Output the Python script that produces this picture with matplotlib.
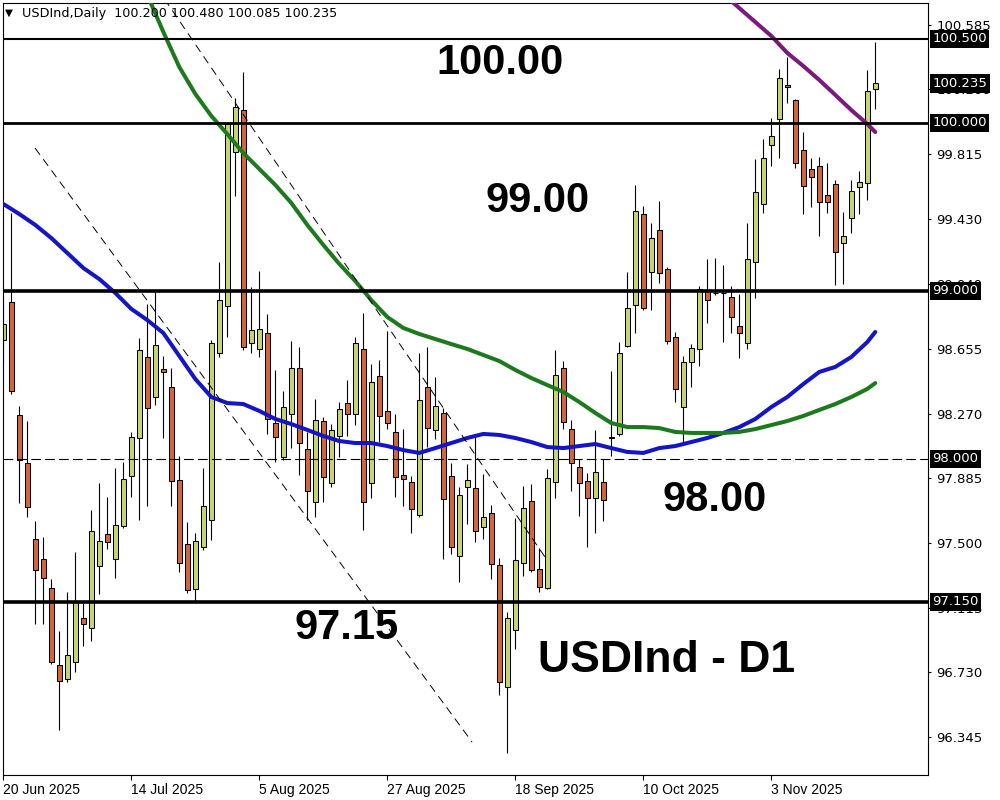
import matplotlib
matplotlib.use("Agg")
import matplotlib.pyplot as plt
import matplotlib.transforms as mtransforms

plt.rcParams['lines.scale_dashes'] = False

# ---- daily USDInd candles (one entry per trading day) ----
opens = [
    98.708, 98.934, 98.262, 97.976, 97.524, 97.405, 97.232, 96.774, 96.690, 96.792,
    97.053, 96.994, 97.363, 97.553, 97.405, 97.601, 97.899, 98.125, 98.607, 98.369,
    98.536, 98.428, 97.875, 97.494, 97.226, 97.476, 97.637, 98.631, 98.911, 99.827,
    100.077, 98.690, 98.655, 98.750, 98.214, 98.012, 98.268, 98.542, 98.059, 97.744,
    98.226, 97.857, 98.137, 98.333, 98.268, 98.655, 97.857, 98.494, 98.286, 98.161,
    97.905, 97.863, 97.667, 98.428, 98.173, 98.274, 97.899, 97.423, 97.833, 97.827,
    97.595, 97.678, 97.369, 96.643, 96.982, 97.381, 97.750, 97.345, 97.232, 97.863,
    98.542, 98.178, 97.952, 97.869, 97.768, 97.863, 98.125, 98.149, 98.673, 98.917,
    99.458, 99.113, 99.363, 99.131, 98.726, 98.309, 98.577, 98.655, 99.006, 98.988,
    98.988, 98.964, 98.792, 98.690, 99.173, 99.518, 99.869, 100.024, 100.226, 100.137,
    99.839, 99.726, 99.744, 99.571, 99.637, 99.286, 99.434, 99.619, 99.643, 100.200,
]
highs = [
    98.940, 99.464, 98.315, 98.226, 97.631, 97.536, 97.286, 96.976, 97.208, 97.446,
    97.143, 97.696, 97.857, 97.774, 97.946, 97.982, 98.161, 98.720, 98.923, 98.994,
    98.613, 98.542, 98.018, 97.625, 97.559, 97.946, 98.708, 99.173, 100.000, 100.149,
    100.303, 99.024, 99.119, 98.863, 98.530, 98.405, 98.702, 98.667, 98.161, 98.357,
    98.250, 98.208, 98.339, 98.470, 98.726, 98.869, 98.565, 98.589, 98.762, 98.268,
    98.178, 97.899, 98.631, 98.667, 98.488, 98.303, 97.976, 97.833, 97.970, 98.131,
    97.911, 97.726, 97.411, 97.089, 97.649, 97.839, 97.851, 97.470, 97.940, 98.649,
    98.583, 98.232, 98.000, 97.917, 98.173, 98.000, 98.524, 98.696, 99.113, 99.631,
    99.506, 99.405, 99.536, 99.143, 98.756, 98.613, 98.684, 99.030, 99.190, 99.196,
    99.155, 99.030, 98.982, 99.405, 99.786, 99.905, 100.030, 100.321, 100.393, 100.143,
    99.946, 99.792, 99.798, 99.762, 99.661, 99.470, 99.661, 99.714, 100.315, 100.480,
]
lows = [
    98.571, 98.387, 97.738, 97.655, 97.018, 97.018, 96.780, 96.387, 96.673, 96.732,
    96.887, 96.917, 97.196, 97.464, 97.292, 97.589, 97.774, 97.637, 97.720, 98.321,
    98.125, 97.720, 97.327, 97.202, 97.149, 97.458, 97.518, 98.607, 98.726, 99.565,
    98.649, 98.631, 98.607, 98.149, 97.982, 97.994, 98.065, 97.905, 97.637, 97.655,
    97.744, 97.833, 98.012, 98.137, 98.202, 97.577, 97.768, 98.101, 98.178, 97.774,
    97.720, 97.559, 97.655, 98.071, 98.119, 97.405, 97.434, 97.268, 97.613, 97.506,
    97.524, 97.286, 96.595, 96.250, 96.869, 97.303, 97.327, 97.208, 97.226, 97.768,
    98.178, 97.809, 97.661, 97.476, 97.559, 97.631, 98.018, 98.137, 98.667, 98.750,
    98.887, 98.887, 99.048, 98.684, 98.339, 98.083, 98.428, 98.553, 98.809, 98.976,
    98.696, 98.750, 98.601, 98.655, 98.958, 99.464, 99.744, 99.792, 100.119, 99.732,
    99.458, 99.500, 99.327, 99.464, 99.036, 99.042, 99.345, 99.458, 99.542, 100.085,
]
closes = [
    98.803, 98.405, 97.994, 97.714, 97.339, 97.292, 96.792, 96.678, 96.833, 97.149,
    97.018, 97.571, 97.512, 97.506, 97.607, 97.881, 98.131, 98.649, 98.303, 98.678,
    98.518, 97.869, 97.381, 97.220, 97.512, 97.720, 98.690, 98.946, 99.994, 100.095,
    98.667, 98.768, 98.774, 98.238, 98.131, 98.309, 98.542, 98.095, 97.809, 98.232,
    97.893, 98.173, 98.298, 98.268, 98.690, 97.744, 98.458, 98.256, 98.214, 97.893,
    97.881, 97.702, 98.351, 98.184, 98.315, 97.762, 97.476, 97.786, 97.875, 97.571,
    97.655, 97.375, 96.673, 97.053, 97.399, 97.708, 97.339, 97.238, 97.887, 98.500,
    98.220, 97.976, 97.857, 97.768, 97.923, 97.756, 98.131, 98.631, 98.899, 99.476,
    98.899, 99.315, 99.107, 98.702, 98.417, 98.577, 98.661, 99.012, 98.946, 98.988,
    98.988, 98.845, 98.750, 99.190, 99.589, 99.792, 99.923, 100.268, 100.214, 99.762,
    99.625, 99.678, 99.530, 99.530, 99.232, 99.327, 99.595, 99.649, 100.190, 100.235,
]

# ---- moving averages (bar index, price) ----
ma_blue_idx = list(range(0, 110, 2)) + [109]
ma_blue = [
    99.518, 99.458, 99.393, 99.315, 99.226, 99.137, 99.071, 98.988, 98.893, 98.827,
    98.750, 98.613, 98.476, 98.369, 98.333, 98.327, 98.286, 98.238, 98.208, 98.173,
    98.137, 98.107, 98.095, 98.095, 98.077, 98.053, 98.036, 98.065, 98.095, 98.125,
    98.149, 98.143, 98.125, 98.101, 98.071, 98.065, 98.077, 98.089, 98.065, 98.042,
    98.036, 98.065, 98.077, 98.101, 98.125, 98.155, 98.190, 98.238, 98.309, 98.369,
    98.446, 98.518, 98.548, 98.607, 98.696, 98.756,
]
ma_green_idx = list(range(18, 110, 2)) + [109]
ma_green = [
    100.762, 100.542, 100.333, 100.173, 100.042, 99.934, 99.821, 99.726, 99.631, 99.524,
    99.393, 99.274, 99.161, 99.059, 98.946, 98.845, 98.780, 98.744, 98.714, 98.684,
    98.655, 98.619, 98.583, 98.530, 98.482, 98.440, 98.399, 98.339, 98.274, 98.214,
    98.190, 98.190, 98.184, 98.161, 98.155, 98.155, 98.155, 98.161, 98.178, 98.202,
    98.226, 98.256, 98.292, 98.327, 98.369, 98.417, 98.452,
]
ma_purple_idx = list(range(90, 110, 2)) + [109]
ma_purple = [100.768, 100.684, 100.601, 100.518, 100.417, 100.339, 100.256,
             100.167, 100.077, 99.994, 99.946]

# ---- drawn objects ----
solid_levels = [100.5, 100.0, 99.0, 97.15]
solid_widths = [1.5, 2.0, 2.6, 2.6]
dashed_level = 98.0
trend_a = ([3.96, 58.6], [99.851, 96.315])
trend_b = ([20.0, 67.7], [100.748, 97.417])

notes = ["100.00", "99.00", "98.00", "97.15"]
note_x = [62.1, 66.8, 88.96, 42.96]
note_y = [100.357, 99.535, 97.756, 96.994]
title_note = "USDInd - D1"

price_ticks = [100.585, 100.200, 99.815, 99.430, 99.040, 98.655,
               98.270, 97.885, 97.500, 97.115, 96.730, 96.345]
price_tick_labels = ["100.585", "100.200", "99.815", "99.430", "99.040", "98.655",
                     "98.270", "97.885", "97.500", "97.115", "96.730", "96.345"]
date_idx = [0, 16, 32, 48, 64, 80, 96]
date_labels = ["20 Jun 2025", "14 Jul 2025", "5 Aug 2025", "27 Aug 2025",
               "18 Sep 2025", "10 Oct 2025", "3 Nov 2025"]

UP = '#c6d66e'
DOWN = '#d4663c'

fig = plt.figure(figsize=(10, 8), dpi=100)
fig.patch.set_facecolor('white')
ax = fig.add_axes([0.003, 0.03125, 0.925, 0.9656])
ax.set_facecolor('white')

n = len(closes)
idx = list(range(n))

# wicks
ax.vlines(idx, lows, highs, colors='black', linewidth=0.8, zorder=2)
# bodies
bottoms = [min(o, c) for o, c in zip(opens, closes)]
heights = [abs(c - o) for o, c in zip(opens, closes)]
colors = [UP if c >= o else DOWN for o, c in zip(opens, closes)]
ax.bar(idx, heights, bottom=bottoms, width=0.62, color=colors,
       edgecolor='black', linewidth=0.75, zorder=2.2)

# moving averages
ax.plot(ma_blue_idx, ma_blue, color='#1414c8', lw=2.9, zorder=3,
        solid_capstyle='round', solid_joinstyle='round')
ax.plot(ma_green_idx, ma_green, color='#1c7a1c', lw=2.9, zorder=3,
        solid_capstyle='round', solid_joinstyle='round')
ax.plot(ma_purple_idx, ma_purple, color='#7a1a7e', lw=2.9, zorder=3,
        solid_capstyle='round', solid_joinstyle='round')

# horizontal levels
for lvl, w in zip(solid_levels, solid_widths):
    ax.axhline(lvl, color='black', lw=w, zorder=4)
ax.axhline(dashed_level, color='black', lw=0.8, zorder=4, dashes=(7, 3))

# trend lines
for tx, ty in (trend_a, trend_b):
    ax.plot(tx, ty, color='black', lw=0.7, dashes=(6, 4), zorder=4)

# annotations
for s, x, y in zip(notes, note_x, note_y):
    ax.text(x, y, s, fontsize=30, fontweight='bold', family='Liberation Sans',
            ha='center', va='center', color='black', zorder=5)
ax.text(82.96, 96.803, title_note, fontsize=32, fontweight='bold',
        family='Liberation Sans', ha='center', va='center', color='black', zorder=5)

ax.set_xlim(-0.04, 115.59)
ax.set_ylim(96.119, 100.717)

# price axis on the right
ax.yaxis.tick_right()
ax.set_yticks(price_ticks)
ax.set_yticklabels(price_tick_labels)
ax.tick_params(axis='y', direction='out', length=2.5, width=0.8, pad=3.5,
               labelsize=9.5, colors='black')

# date axis
ax.set_xticks(date_idx)
ax.set_xticklabels(date_labels, ha='left',
                   family=['Liberation Sans Narrow', 'Liberation Sans'])
ax.tick_params(axis='x', direction='out', length=3.5, width=0.8, pad=2,
               labelsize=10, colors='black')

for sp in ax.spines.values():
    sp.set_color('black')
    sp.set_linewidth(0.8)

# black price boxes on the right axis
trans = mtransforms.blended_transform_factory(ax.transAxes, ax.transData)
for lvl in solid_levels + [dashed_level, closes[-1]]:
    ax.text(1.0045, lvl, f"{lvl:.3f}", transform=trans, fontsize=9.5,
            color='white', ha='left', va='center', clip_on=False, zorder=6,
            bbox=dict(boxstyle='square,pad=0.2', fc='black', ec='none'))

# header line
fig.text(0.005, 1 - 13 / 800, "\u25bc", fontsize=7.5, ha='left', va='center')
fig.text(0.022, 1 - 13 / 800,
         f"USDInd,Daily  {opens[-1]:.3f} {highs[-1]:.3f} {lows[-1]:.3f} {closes[-1]:.3f}",
         fontsize=9.2, ha='left', va='center', color='black', zorder=10)

fig.savefig('out.png', dpi=100)
